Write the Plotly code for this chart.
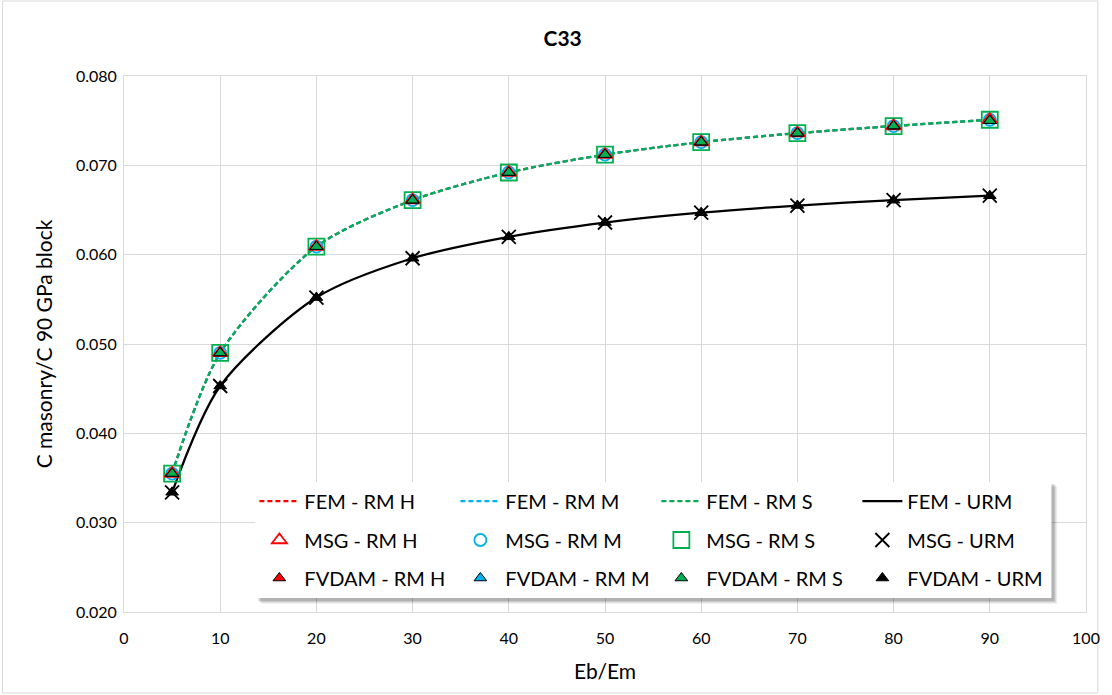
import plotly.graph_objects as go

# ---------------- data ----------------
eb_em = [5, 10, 20, 30, 40, 50, 60, 70, 80, 90]

fem_rm_h = [0.0355, 0.0490, 0.0609, 0.0661, 0.0692, 0.0712, 0.0726, 0.0736, 0.0744, 0.0751]
fem_rm_m = [0.0355, 0.0490, 0.0609, 0.0661, 0.0692, 0.0712, 0.0726, 0.0736, 0.0744, 0.0751]
fem_rm_s = [0.0355, 0.0490, 0.0609, 0.0661, 0.0692, 0.0712, 0.0726, 0.0736, 0.0744, 0.0751]
fem_urm = [0.0334, 0.0453, 0.0552, 0.0596, 0.0620, 0.0636, 0.0647, 0.0655, 0.0661, 0.0666]

msg_rm_h = [0.0355, 0.0490, 0.0609, 0.0661, 0.0692, 0.0712, 0.0726, 0.0736, 0.0744, 0.0751]
msg_rm_m = [0.0355, 0.0490, 0.0609, 0.0661, 0.0692, 0.0712, 0.0726, 0.0736, 0.0744, 0.0751]
msg_rm_s = [0.0355, 0.0490, 0.0609, 0.0661, 0.0692, 0.0712, 0.0726, 0.0736, 0.0744, 0.0751]
msg_urm = [0.0334, 0.0453, 0.0552, 0.0596, 0.0620, 0.0636, 0.0647, 0.0655, 0.0661, 0.0666]

fvdam_rm_h = [0.0355, 0.0490, 0.0609, 0.0661, 0.0692, 0.0712, 0.0726, 0.0736, 0.0744, 0.0750]
fvdam_rm_m = [0.0355, 0.0490, 0.0609, 0.0661, 0.0692, 0.0712, 0.0726, 0.0736, 0.0744, 0.0750]
fvdam_rm_s = [0.0355, 0.0490, 0.0609, 0.0661, 0.0692, 0.0712, 0.0726, 0.0736, 0.0744, 0.0750]
fvdam_urm = [0.0334, 0.0453, 0.0552, 0.0596, 0.0620, 0.0636, 0.0647, 0.0655, 0.0661, 0.0666]

x_ticks = [0, 10, 20, 30, 40, 50, 60, 70, 80, 90, 100]
y_ticks = [0.020, 0.030, 0.040, 0.050, 0.060, 0.070, 0.080]

RED = "#ff0000"
BLUE = "#00b0f0"
GREEN = "#00b050"
BLACK = "#000000"
FONT = "Lato, 'Open Sans', sans-serif"

fig = go.Figure()

# FEM lines (legend row 1)
for name, y, col, dash in [
    ("FEM - RM H", fem_rm_h, RED, "5px,3px"),
    ("FEM - RM M", fem_rm_m, BLUE, "5px,3px"),
    ("FEM - RM S", fem_rm_s, GREEN, "5px,3px"),
    ("FEM - URM", fem_urm, BLACK, "solid"),
]:
    fig.add_trace(go.Scatter(
        x=eb_em, y=y, name=name, mode="lines", legend="legend",
        line=dict(color=col, width=2.25, dash=dash, shape="spline", smoothing=0.8),
    ))

# MSG markers (legend row 2)
for name, y, col, sym, size in [
    ("MSG - RM S", msg_rm_s, GREEN, "square-open", 16),
    ("MSG - RM M", msg_rm_m, BLUE, "circle-open", 12),
    ("MSG - RM H", msg_rm_h, RED, "triangle-up-open", 13),
    ("MSG - URM", msg_urm, BLACK, "x-thin-open", 14),
]:
    fig.add_trace(go.Scatter(
        x=eb_em, y=y, name=name, mode="markers", legend="legend2",
        marker=dict(symbol=sym, size=size, color=col, line=dict(color=col, width=1.8)),
    ))

# FVDAM markers (legend row 3)
for name, y, col in [
    ("FVDAM - RM H", fvdam_rm_h, RED),
    ("FVDAM - RM M", fvdam_rm_m, BLUE),
    ("FVDAM - RM S", fvdam_rm_s, GREEN),
    ("FVDAM - URM", fvdam_urm, BLACK),
]:
    fig.add_trace(go.Scatter(
        x=eb_em, y=y, name=name, mode="markers", legend="legend3",
        marker=dict(symbol="triangle-up", size=11, color=col, line=dict(color=BLACK, width=1)),
    ))

# legend ordering within rows
order2 = {"MSG - RM H": 1, "MSG - RM M": 2, "MSG - RM S": 3, "MSG - URM": 4}
for tr in fig.data:
    if tr.name in order2:
        tr.legendrank = order2[tr.name]

L, R, T, B = 124, 14, 76, 83
W, H = 1112, 695
pw, ph = W - L - R, H - T - B

def px_x(p):
    return (p - L) / pw

def px_y(p):
    return (H - B - p) / ph

legend_common = dict(
    orientation="h", xanchor="left", yanchor="middle",
    bgcolor="rgba(0,0,0,0)", borderwidth=0,
    font=dict(family=FONT, size=20, color="#000000"),
    entrywidth=146, entrywidthmode="pixels", itemwidth=40,
    traceorder="normal",
)

shapes = []
# soft legend shadow
for off, alpha in [(6, 0.05), (5, 0.07), (4, 0.09), (3, 0.12)]:
    shapes.append(dict(type="rect", xref="paper", yref="paper", layer="above",
                       x0=px_x(258 + off - 1), x1=px_x(1063 + off), y0=px_y(598 + off), y1=px_y(482 + off - 1),
                       fillcolor=f"rgba(0,0,0,{alpha})", line=dict(width=0)))
# legend box
shapes.append(dict(type="rect", xref="paper", yref="paper", layer="above",
                   x0=px_x(257), x1=px_x(1063), y0=px_y(598), y1=px_y(482),
                   fillcolor="white", line=dict(width=0)))
# outer chart border
shapes.append(dict(type="rect", xref="paper", yref="paper", layer="below",
                   x0=px_x(1), x1=px_x(1110), y0=px_y(693), y1=px_y(1),
                   fillcolor="rgba(0,0,0,0)", line=dict(color="#d9d9d9", width=1)))

fig.update_layout(
    width=W, height=H,
    margin=dict(l=L, r=R, t=T, b=B),
    paper_bgcolor="white", plot_bgcolor="white",
    font=dict(family=FONT, color="#000000"),
    title=dict(text="<b>C33</b>", x=0.506, xanchor="center", y=0.945, yanchor="middle",
               font=dict(family=FONT, size=21, color="#000000")),
    xaxis=dict(
        range=[0, 100], tickvals=x_ticks, ticktext=[str(v) for v in x_ticks],
        showgrid=True, gridcolor="#d9d9d9", gridwidth=1,
        showline=True, linecolor="#d9d9d9", linewidth=1, mirror=True,
        zeroline=False, ticks="", tickfont=dict(family=FONT, size=16),
        ticklabelstandoff=12,
        title=dict(text="Eb/Em", font=dict(family=FONT, size=21), standoff=18),
    ),
    yaxis=dict(
        range=[0.020, 0.080], tickvals=y_ticks, ticktext=[f"{v:.3f}" for v in y_ticks],
        showgrid=True, gridcolor="#d9d9d9", gridwidth=1,
        showline=True, linecolor="#d9d9d9", linewidth=1, mirror=True,
        zeroline=False, ticks="", tickfont=dict(family=FONT, size=16),
        ticklabelstandoff=3,
        title=dict(text="C masonry/C 90 GPa block", font=dict(family=FONT, size=21), standoff=17),
    ),
    legend=dict(x=px_x(256), y=px_y(501), **legend_common),
    legend2=dict(x=px_x(256), y=px_y(540), **legend_common),
    legend3=dict(x=px_x(256), y=px_y(578), **legend_common),
    showlegend=True,
    shapes=shapes,
)

fig.write_html("out.html")
